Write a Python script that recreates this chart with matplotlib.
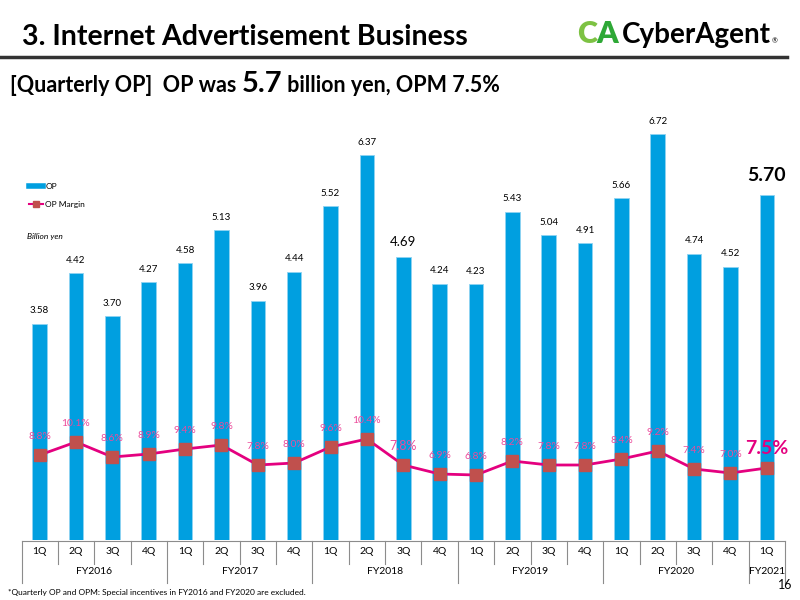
import matplotlib
matplotlib.use("Agg")
import matplotlib.pyplot as plt
import matplotlib.transforms as mtransforms
from matplotlib.lines import Line2D

plt.rcParams['font.family'] = ['Lato', 'DejaVu Sans']

# data
quarters = ['1Q', '2Q', '3Q', '4Q'] * 5 + ['1Q']
years = ['FY2016', 'FY2017', 'FY2018', 'FY2019', 'FY2020', 'FY2021']
year_len = [4, 4, 4, 4, 4, 1]
op = [3.58, 4.42, 3.70, 4.27, 4.58, 5.13, 3.96, 4.44, 5.52, 6.37, 4.69,
      4.24, 4.23, 5.43, 5.04, 4.91, 5.66, 6.72, 4.74, 4.52, 5.70]
opm = [8.8, 10.1, 8.6, 8.9, 9.4, 9.8, 7.8, 8.0, 9.6, 10.4, 7.8,
       6.9, 6.8, 8.2, 7.8, 7.8, 8.4, 9.2, 7.4, 7.0, 7.5]

blue = '#009FE0'
pink = '#E4007F'
pink_txt = '#EC4B9B'
marker_c = '#C0504D'

fig = plt.figure(figsize=(8, 6), dpi=100)
renderer = fig.canvas.get_renderer()


def chain(x0, y0, parts):
    # place text pieces one after another on the same baseline
    xx = x0
    for s, kw in parts:
        t = fig.text(xx, y0, s, va='baseline', **kw)
        bb = t.get_window_extent(renderer)
        xx = bb.x1 / fig.bbox.width
    return xx


ax = fig.add_axes([21.5/800, 60/600, 763.5/800, 440/600])
x = list(range(len(op)))
ax.bar(x, op, width=0.4, color=blue, edgecolor='#8fd3f2', linewidth=0.6)
ax.set_xlim(-0.5, len(op) - 0.5)
ax.set_ylim(0, 7.28)
ax.axis('off')

for i, v in enumerate(op):
    if i == len(op) - 1:
        ax.annotate(f'{v:.2f}', (i, v), xytext=(0, 8), textcoords='offset points',
                    ha='center', va='bottom', fontsize=14, fontweight='bold')
    elif i == 10:
        ax.annotate(f'{v:.2f}', (i, v), xytext=(0, 6), textcoords='offset points',
                    ha='center', va='bottom', fontsize=9.5)
    else:
        ax.annotate(f'{v:.2f}', (i, v), xytext=(0, 6), textcoords='offset points',
                    ha='center', va='bottom', fontsize=7)

ax2 = ax.twinx()
ax2.set_position(ax.get_position())
ax2.plot(x, opm, color=pink, lw=2, marker='s', ms=8, mfc=marker_c, mec=marker_c)
ax2.set_ylim(0.3, 44.3)
ax2.axis('off')
for i, v in enumerate(opm):
    if i == len(opm) - 1:
        ax2.annotate(f'{v:.1f}%', (i, v), xytext=(0, 8), textcoords='offset points',
                     ha='center', va='bottom', fontsize=14, fontweight='bold', color=pink)
    elif i == 10:
        ax2.annotate(f'{v:.1f}%', (i, v), xytext=(0, 9), textcoords='offset points',
                     ha='center', va='bottom', fontsize=9, color=pink_txt)
    else:
        ax2.annotate(f'{v:.1f}%', (i, v), xytext=(0, 10), textcoords='offset points',
                     ha='center', va='bottom', fontsize=7.5, color=pink_txt)

# category table under the axis
tr = mtransforms.blended_transform_factory(ax.transData, fig.transFigure)
gray = '#8c8c8c'
y_top, y_short, y_tall = 1 - 541/600, 1 - 564/600, 1 - 583/600
ax.plot([-0.5, len(op) - 0.5], [y_top, y_top], color=gray, lw=0.8, transform=tr, clip_on=False)
bounds = [-0.5]
for n in year_len:
    bounds.append(bounds[-1] + n)
for i in range(len(op) + 1):
    b = i - 0.5
    yb = y_tall if b in bounds else y_short
    ax.plot([b, b], [y_top, yb], color=gray, lw=0.8, transform=tr, clip_on=False)
for i, q in enumerate(quarters):
    ax.text(i, 1 - 552/600, q, transform=tr, ha='center', va='center', fontsize=7.5)
for k, yname in enumerate(years):
    ax.text((bounds[k] + bounds[k + 1]) / 2, 1 - 572/600, yname, transform=tr,
            ha='center', va='center', fontsize=7.5)

# legend
handles = [Line2D([], [], color=blue, lw=4),
           Line2D([], [], color=pink, lw=1.5, marker='s', ms=5, mfc=marker_c, mec=marker_c)]
fig.legend(handles, ['OP', 'OP Margin'], loc='upper left', bbox_to_anchor=(26/800, 1 - 180/600),
           frameon=False, fontsize=6, handlelength=1.6, labelspacing=1.3, borderaxespad=0,
           handletextpad=0.3)
fig.text(27/800, 1 - 237/600, 'Billion yen', fontsize=6, style='italic', va='center')

# header
fig.text(22/800, 1 - 45/600, '3. Internet Advertisement Business', fontsize=20.5,
         fontweight='bold', va='baseline')
fig.add_artist(Line2D([0, 787/800], [1 - 57/600, 1 - 57/600], color='#333333', lw=2.5))
chain(10/800, 1 - 92/600, [('[Quarterly OP]  OP was ', dict(fontsize=15.5, fontweight='bold')),
                           ('5.7', dict(fontsize=21, fontweight='bold')),
                           (' billion yen, OPM 7.5%', dict(fontsize=15.5, fontweight='bold'))])

# logo
xe = chain(577/800, 1 - 43/600, [('C', dict(fontsize=22, fontweight='heavy', color='#7DC243')),
                                 ('A', dict(fontsize=22, fontweight='heavy', color='#2EA836'))])
xe = chain(xe + 3/800, 1 - 43/600, [('CyberAgent', dict(fontsize=20, fontweight='bold'))])
fig.text(xe + 1/800, 1 - 43/600, '®', fontsize=5, va='baseline')

# footer
fig.text(8/800, 1 - 592/600, '*Quarterly OP and OPM: Special incentives in FY2016 and FY2020 are excluded.',
         fontsize=6, va='center')
fig.text(792/800, 1 - 585/600, '16', fontsize=9, ha='right', va='center')

fig.savefig('out.png', dpi=100)
